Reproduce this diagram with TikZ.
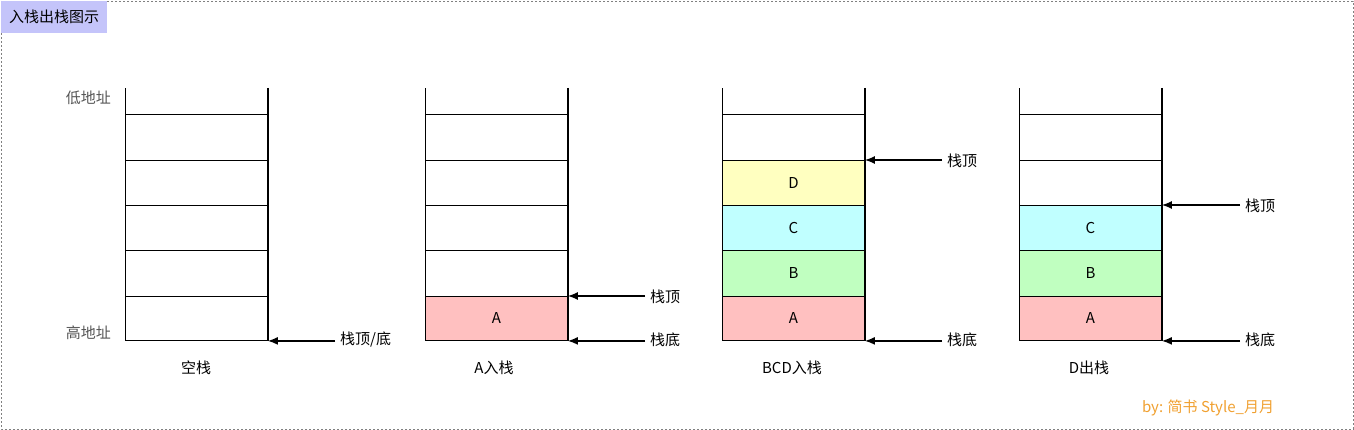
\documentclass[tikz,border=0pt]{standalone}
\usepackage{fontspec}
\setmainfont{Noto Sans CJK SC}
\usetikzlibrary{arrows.meta}
\definecolor{titlecol}{HTML}{C4C4FA}
\definecolor{ca}{HTML}{FFC0C0}
\definecolor{cb}{HTML}{C0FFC0}
\definecolor{cc}{HTML}{C0FFFF}
\definecolor{cd}{HTML}{FFFFC0}
\definecolor{footcol}{HTML}{F0A030}
\definecolor{addrcol}{HTML}{555555}
\begin{document}
\begin{tikzpicture}[x=1pt,y=-1pt,font=\fontsize{15}{17}\selectfont,
  cell/.style={draw, line width=0.9pt, minimum width=142pt, minimum height=45pt, inner sep=0pt, anchor=north west},
  ptr/.style={-{Latex[length=10pt,width=8pt]}, line width=1.4pt},
  lbl/.style={anchor=west, inner sep=0pt},
  captext/.style={inner sep=0pt},
  addr/.style={anchor=east, inner sep=0pt, text=addrcol},
  wall/.style={line width=1.6pt}]
\useasboundingbox (0,0) rectangle (1354,430);
\draw[gray, line width=0.8pt, dash pattern=on 2pt off 2pt] (1,1) rectangle (1353,429);
\node[fill=titlecol, anchor=north west, minimum width=106pt, minimum height=32pt, inner sep=0pt] (title) at (1,1) {入栈出栈图示};

% stack 1
\node[cell, minimum height=46pt] (s1r1) at (125,114) {};
\node[cell] (s1r2) at (125,160) {};
\node[cell] (s1r3) at (125,205) {};
\node[cell, minimum height=46pt] (s1r4) at (125,250) {};
\node[cell, minimum height=44pt] (s1r5) at (125,296) {};
% stack 2
\node[cell, minimum height=46pt] (s2r1) at (425,114) {};
\node[cell] (s2r2) at (425,160) {};
\node[cell] (s2r3) at (425,205) {};
\node[cell, minimum height=46pt] (s2r4) at (425,250) {};
\node[cell, minimum height=44pt, fill=ca] (s2r5) at (425,296) {A};
% stack 3
\node[cell, minimum height=46pt] (s3r1) at (722,114) {};
\node[cell, fill=cd] (s3r2) at (722,160) {D};
\node[cell, fill=cc] (s3r3) at (722,205) {C};
\node[cell, minimum height=46pt, fill=cb] (s3r4) at (722,250) {B};
\node[cell, minimum height=44pt, fill=ca] (s3r5) at (722,296) {A};
% stack 4
\node[cell, minimum height=46pt] (s4r1) at (1019,114) {};
\node[cell] (s4r2) at (1019,160) {};
\node[cell, fill=cc] (s4r3) at (1019,205) {C};
\node[cell, minimum height=46pt, fill=cb] (s4r4) at (1019,250) {B};
\node[cell, minimum height=44pt, fill=ca] (s4r5) at (1019,296) {A};

\foreach \i in {1,2,3,4} {
  \draw[line width=0.9pt] (s\i r1.north west) -- ++(0,-26);
  \draw[wall] ([yshift=26pt]s\i r1.north east) -- (s\i r5.south east);
}

% address labels
\node[addr] (lo) at (111,98) {低地址};
\node[addr] (hi) at (111,333) {高地址};

% captions
\node[captext] (c1) at (196,368) {空栈};
\node[captext] (c2) at (494,368) {A入栈};
\node[captext] (c3) at (792,368) {BCD入栈};
\node[captext] (c4) at (1089,368) {D出栈};

% pointers
\node[lbl] (p1) at (340,340) {栈顶/底};
\draw[ptr] ([xshift=-5pt]p1.west |- s1r5.south east) -- (s1r5.south east);

\node[lbl] (p2t) at (650,297) {栈顶};
\draw[ptr] ([xshift=-5pt]p2t.west |- s2r5.north east) -- (s2r5.north east);
\node[lbl] (p2b) at (650,340) {栈底};
\draw[ptr] ([xshift=-5pt]p2b.west |- s2r5.south east) -- (s2r5.south east);

\node[lbl] (p3t) at (947,161) {栈顶};
\draw[ptr] ([xshift=-5pt]p3t.west |- s3r2.north east) -- (s3r2.north east);
\node[lbl] (p3b) at (947,340) {栈底};
\draw[ptr] ([xshift=-5pt]p3b.west |- s3r5.south east) -- (s3r5.south east);

\node[lbl] (p4t) at (1245,206) {栈顶};
\draw[ptr] ([xshift=-5pt]p4t.west |- s4r3.north east) -- (s4r3.north east);
\node[lbl] (p4b) at (1245,340) {栈底};
\draw[ptr] ([xshift=-5pt]p4b.west |- s4r5.south east) -- (s4r5.south east);

\node[captext, text=footcol] (foot) at (1208,408) {by: 简书 Style\_月月};
\end{tikzpicture}
\end{document}
